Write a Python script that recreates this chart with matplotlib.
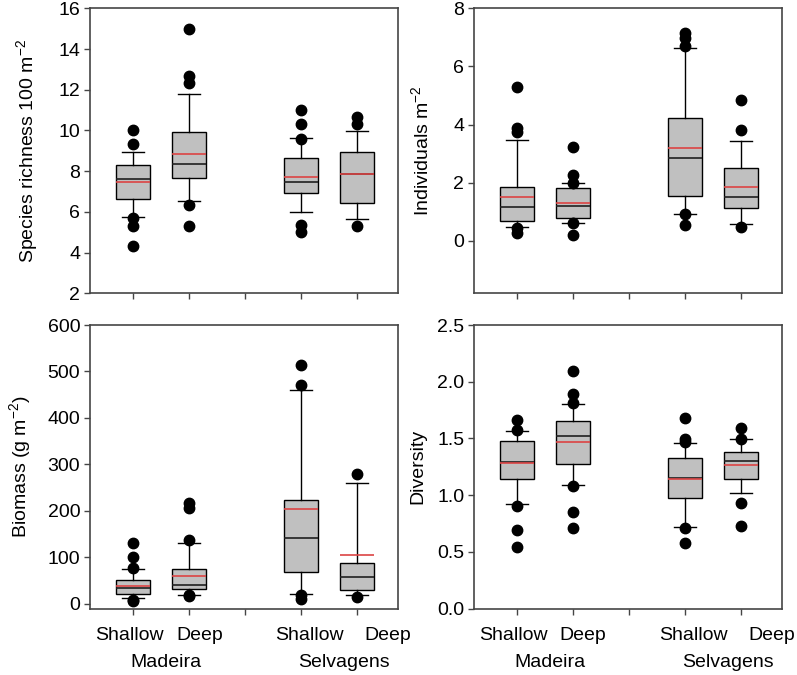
import matplotlib
matplotlib.use('Agg')
import matplotlib.pyplot as plt
import matplotlib.transforms as mtransforms

plt.rcParams['font.family'] = ['Liberation Sans', 'DejaVu Sans']
plt.rcParams['font.size'] = 14

# positions of the four groups (3 is the gap between islands)
positions = [1, 2, 4, 5]
groups = ['Shallow', 'Deep', 'Shallow', 'Deep']
islands = ['Madeira', 'Selvagens']

# box stats per panel: whislo, q1, med, q3, whishi, mean, fliers
rich_lo = [5.77, 6.52, 6.00, 5.65]
rich_q1 = [6.63, 7.65, 6.91, 6.42]
rich_med = [7.62, 8.34, 7.49, 7.85]
rich_q3 = [8.30, 9.94, 8.63, 8.96]
rich_hi = [8.96, 11.79, 9.61, 9.99]
rich_mean = [7.49, 8.86, 7.73, 7.85]
rich_fliers = [[10.0, 9.32, 5.68, 5.32, 4.32],
               [15.0, 12.68, 12.32, 6.34, 5.32],
               [11.0, 10.3, 9.6, 5.36, 5.0],
               [10.68, 10.3, 5.32]]

ind_lo = [0.49, 0.61, 0.92, 0.57]
ind_q1 = [0.70, 0.80, 1.56, 1.12]
ind_med = [1.16, 1.20, 2.84, 1.52]
ind_q3 = [1.87, 1.83, 4.24, 2.50]
ind_hi = [3.47, 2.00, 6.65, 3.42]
ind_mean = [1.52, 1.32, 3.19, 1.87]
ind_fliers = [[5.28, 3.90, 3.76, 0.44, 0.26],
              [3.24, 2.27, 2.0, 0.61, 0.21],
              [7.16, 6.97, 6.70, 0.92, 0.55],
              [4.85, 3.82, 0.49]]

bio_lo = [13, 20, 21, 19]
bio_q1 = [22, 31, 68, 29]
bio_med = [34, 40, 141, 57]
bio_q3 = [52, 75, 223, 89]
bio_hi = [75, 132, 460, 260]
bio_mean = [39, 59, 205, 106]
bio_fliers = [[131, 101, 77, 9, 6],
              [217, 206, 137, 20, 16],
              [514, 471, 20, 11],
              [279, 15]]

div_lo = [0.923, 1.085, 0.716, 1.017]
div_q1 = [1.138, 1.277, 0.973, 1.138]
div_med = [1.291, 1.521, 1.153, 1.300]
div_q3 = [1.477, 1.654, 1.327, 1.380]
div_hi = [1.565, 1.807, 1.462, 1.492]
div_mean = [1.282, 1.468, 1.144, 1.262]
div_fliers = [[1.66, 1.57, 0.908, 0.693, 0.545],
              [2.096, 1.896, 1.813, 1.079, 0.849, 0.710],
              [1.683, 1.498, 1.468, 0.710, 0.578],
              [1.592, 1.498, 0.929, 0.725]]


def make_stats(lo, q1, med, q3, hi, mean, fliers):
    stats = []
    for i in range(len(lo)):
        stats.append(dict(whislo=lo[i], q1=q1[i], med=med[i], q3=q3[i],
                          whishi=hi[i], mean=mean[i], fliers=fliers[i]))
    return stats


panels = [
    (make_stats(rich_lo, rich_q1, rich_med, rich_q3, rich_hi, rich_mean, rich_fliers),
     r'Species richness 100 m$^{\mathregular{-2}}$', (2, 16), range(2, 17, 2), '%d', -0.158),
    (make_stats(ind_lo, ind_q1, ind_med, ind_q3, ind_hi, ind_mean, ind_fliers),
     r'Individuals m$^{\mathregular{-2}}$', (-1.8, 8), range(0, 9, 2), '%d', -0.133),
    (make_stats(bio_lo, bio_q1, bio_med, bio_q3, bio_hi, bio_mean, bio_fliers),
     r'Biomass (g m$^{\mathregular{-2}}$)', (-10, 600), range(0, 601, 100), '%d', -0.182),
    (make_stats(div_lo, div_q1, div_med, div_q3, div_hi, div_mean, div_fliers),
     'Diversity', (0, 2.5), [0, 0.5, 1.0, 1.5, 2.0, 2.5], '%.1f', -0.156),
]

fig = plt.figure(figsize=(7.97, 6.75), dpi=100)
rects = [
    [0.113, 0.5655, 0.3865, 0.4222],
    [0.5947, 0.5655, 0.3865, 0.4222],
    [0.113, 0.0985, 0.3865, 0.42],
    [0.5947, 0.0985, 0.3865, 0.42],
]

frame_col = '#454545'

for k, (stats, ylabel, ylim, yticks, fmt, lab_x) in enumerate(panels):
    ax = fig.add_axes(rects[k])
    ax.bxp(stats, positions=positions, widths=0.6, patch_artist=True,
           showmeans=True, meanline=True, showfliers=True,
           boxprops=dict(facecolor='#c0c0c0', edgecolor='black', linewidth=1.0),
           medianprops=dict(color='#202020', linewidth=1.2),
           meanprops=dict(color='#dc4444', linestyle='-', linewidth=1.2),
           whiskerprops=dict(color='black', linewidth=1.0),
           capprops=dict(color='black', linewidth=1.0),
           capwidths=0.4,
           flierprops=dict(marker='o', markerfacecolor='black',
                           markeredgecolor='black', markersize=7.5))
    ax.set_xlim(0.23, 5.73)
    ax.set_ylim(*ylim)
    ax.set_yticks(list(yticks))
    ax.set_yticklabels([fmt % v for v in yticks])
    ax.set_xticks([1, 2, 3, 4, 5])
    ax.set_xticklabels([])
    ax.tick_params(direction='out', length=4, width=1.0, color=frame_col,
                   labelsize=14, pad=3)
    for sp in ax.spines.values():
        sp.set_color(frame_col)
        sp.set_linewidth(1.2)
    ax.set_ylabel(ylabel, fontsize=14)
    ax.yaxis.set_label_coords(lab_x, 0.5)

    if k >= 2:
        trans = mtransforms.blended_transform_factory(ax.transData, ax.transAxes)
        offs = [-0.07, 0.18, 0.14, 0.55]
        for p, g, o in zip(positions, groups, offs):
            ax.text(p + o, -0.095, g, transform=trans, ha='center',
                    va='center', fontsize=14)
        ax.text(1.58, -0.19, islands[0], transform=trans, ha='center',
                va='center', fontsize=14)
        ax.text(4.77, -0.19, islands[1], transform=trans, ha='center',
                va='center', fontsize=14)

plt.savefig('out.png', dpi=100)
